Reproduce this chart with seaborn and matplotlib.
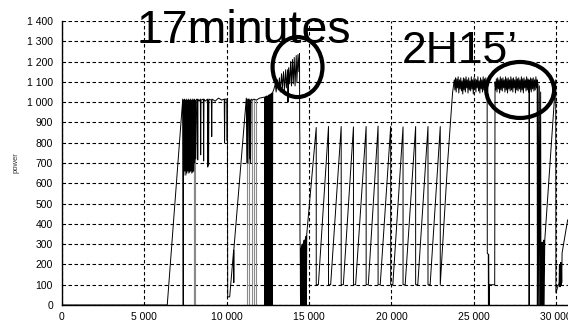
import matplotlib
matplotlib.use("Agg")
import matplotlib.pyplot as plt
from matplotlib.patches import Ellipse
from matplotlib.ticker import FuncFormatter, MultipleLocator
import seaborn as sns
import pandas as pd

# ---------------- data (time in s, power in W) ----------------
warmup = [(0, 0), (6390, 0), (7330, 1015)]

block1 = [(7360, 0), (7370, 1010), (7400, 640), (7430, 1015), (7460, 660), (7490, 1010),
          (7520, 640), (7550, 1015), (7580, 650), (7610, 1010), (7640, 660), (7670, 1015),
          (7700, 650), (7730, 1010), (7760, 655), (7790, 1015), (7820, 660), (7850, 1010),
          (7880, 650), (7910, 1015), (7940, 655), (7970, 1010), (8000, 660), (8030, 1015),
          (8060, 700), (8090, 1010), (8120, 720)]

plateau_a = [(8180, 1015), (8230, 1010), (8240, 715), (8250, 1015), (8330, 1005), (8400, 1015),
             (8420, 740), (8440, 1010), (8580, 1015), (8600, 710), (8620, 1015), (8700, 1005),
             (8830, 1015), (8850, 680), (8870, 1010), (8900, 690), (8920, 1015), (9070, 1010),
             (9090, 830), (9110, 1015), (9300, 1005), (9500, 1020), (9700, 1010), (9850, 1015),
             (9870, 800), (9890, 1015), (10020, 1015), (10030, 810), (10040, 1010), (10060, 40)]

ramp2 = [(10180, 40), (10420, 270), (10430, 110), (10440, 280), (11190, 1020)]

block2 = [(11220, 700), (11250, 1015), (11290, 700), (11320, 1015), (11360, 1015), (11390, 720),
          (11420, 1010), (11450, 700), (11480, 1015), (11560, 1010), (11650, 1015),
          (11800, 1010), (12000, 1020), (12300, 1025),
          (12320, 0), (12345, 1025), (12370, 0), (12395, 1030), (12420, 0), (12445, 1030),
          (12470, 0), (12495, 1030), (12520, 0), (12545, 1035), (12570, 0), (12595, 1035),
          (12620, 0), (12645, 1040), (12670, 0), (12695, 1040), (12720, 0), (12745, 1045),
          (12770, 0), (12795, 1050)]

sprint17 = [(12850, 1060), (12950, 1090), (13000, 1050), (13080, 1110), (13130, 1060),
            (13200, 1120), (13250, 1050), (13330, 1140), (13380, 1070), (13450, 1150),
            (13500, 1060), (13580, 1160), (13620, 1070), (13700, 1160), (13720, 1000),
            (13760, 1170), (13820, 1090), (13880, 1200), (13930, 1080), (13990, 1210),
            (14040, 1090), (14100, 1220), (14150, 1080), (14220, 1230), (14260, 1100),
            (14330, 1235), (14380, 1150), (14420, 1240)]

drop17 = [(14430, 880), (14440, 830), (14450, 320), (14460, 300), (14480, 0), (14500, 280),
          (14520, 0), (14540, 290), (14560, 0), (14580, 300), (14600, 0), (14620, 300),
          (14640, 0), (14660, 310), (14680, 0), (14700, 320), (14720, 0), (14740, 320),
          (14760, 0), (14780, 330), (14800, 0), (14820, 340), (14840, 0), (14860, 350)]

# sawtooth intervals
tooth_peak_t = [15435, 16180, 16950, 17695, 18465, 19190, 19955, 20705, 21470, 22220, 22965]
tooth_peak_p = [875, 880, 880, 878, 880, 882, 880, 878, 880, 880, 880]
tooth_start_t = [15565, 16310, 17080, 17825, 18595, 19320, 20085, 20835, 21600, 22350]
tooth_low_p = 100

to_plateau = [(22965, 100), (23410, 700), (23710, 1045), (23815, 1110)]

plateau1 = [(23850, 1060), (23890, 1120), (23930, 1050), (23970, 1115), (24010, 1070),
            (24050, 1125), (24090, 1045), (24130, 1110), (24170, 1065), (24210, 1120),
            (24250, 1055), (24290, 1105), (24330, 1040), (24370, 1120), (24410, 1060),
            (24450, 1115), (24490, 1050), (24530, 1125), (24570, 1070), (24610, 1110),
            (24650, 1045), (24690, 1120), (24730, 1060), (24770, 1105), (24810, 1055),
            (24850, 1125), (24890, 1065), (24930, 1110), (24970, 1040), (25010, 1120),
            (25050, 1060), (25090, 1115), (25130, 1050), (25170, 1110), (25210, 1070),
            (25250, 1125), (25290, 1055), (25330, 1105), (25370, 1045), (25410, 1120),
            (25450, 1065), (25490, 1110), (25530, 1050), (25570, 1125), (25610, 1060),
            (25650, 1115), (25690, 1055), (25730, 1120), (25770, 1070), (25810, 1100)]

break_a = [(25820, 255), (25880, 250), (25890, 0), (25900, 250), (25930, 0), (25950, 100),
           (26270, 100), (26290, 1100)]

plateau2 = [(26330, 1060), (26370, 1115), (26410, 1050), (26450, 1120), (26490, 1065),
            (26530, 1110), (26570, 1045), (26610, 1125), (26650, 1060), (26690, 1115),
            (26730, 1055), (26770, 1120), (26810, 1070), (26850, 1110), (26890, 1050),
            (26930, 1125), (26970, 1060), (27010, 1115), (27050, 1045), (27090, 1120),
            (27130, 1065), (27170, 1110), (27210, 1055), (27250, 1125), (27290, 1060),
            (27330, 1115), (27370, 1050), (27410, 1120), (27450, 1070), (27490, 1110),
            (27530, 1045), (27570, 1125), (27610, 1060), (27650, 1115), (27690, 1055),
            (27730, 1120), (27770, 1065), (27810, 1110), (27850, 1050), (27890, 1125),
            (27930, 1060), (27970, 1115), (28010, 1045), (28050, 1120), (28090, 1070),
            (28130, 1110), (28170, 1055), (28210, 1125), (28250, 1060), (28290, 1115),
            (28330, 1050), (28360, 1110), (28360, 0), (28370, 1100), (28410, 1060),
            (28450, 1120), (28490, 1050), (28530, 1115), (28570, 1065), (28610, 1120),
            (28650, 1055), (28690, 1110), (28730, 1060), (28770, 1125), (28810, 1070),
            (28845, 1110)]

finish = [(28850, 1100), (28860, 0), (28900, 1090), (28920, 0), (28980, 1080), (29000, 0),
          (29060, 1050), (29080, 0), (29100, 300), (29120, 0), (29150, 310), (29170, 0),
          (29200, 300), (29220, 0), (29250, 320), (29270, 0), (29310, 320), (29975, 1110),
          (29985, 60), (30180, 110), (30200, 200), (30220, 90), (30240, 200), (30260, 90),
          (30280, 210), (30300, 100), (30320, 200), (30340, 110), (30360, 256), (30700, 420)]

# second (grey) trace: vertical drops
grey_t = [7990, 8040, 8090, 11250, 11350, 11510, 11650, 11800]
grey_lo = [0, 0, 0, 0, 0, 0, 0, 0]
grey_hi = [1005, 1005, 1005, 1015, 1015, 1015, 1015, 1010]

y_ticks = list(range(0, 1401, 100))
x_ticks = list(range(0, 30001, 5000))

# ---------------- assemble the trace ----------------
sawtooth = []
for k, (pt, pp) in enumerate(zip(tooth_peak_t, tooth_peak_p)):
    sawtooth.append((pt, pp))
    sawtooth.append((pt, tooth_low_p))
    if k < len(tooth_start_t):
        sawtooth.append((tooth_start_t[k], tooth_low_p))

trace = (warmup + block1 + plateau_a + ramp2 + block2 + sprint17 + drop17 + sawtooth +
         to_plateau + plateau1 + break_a + plateau2 + finish)
df = pd.DataFrame(trace, columns=["time", "power"])

# ---------------- figure ----------------
sns.set_style("white")
plt.rcParams["font.family"] = ["Liberation Sans", "DejaVu Sans"]

fig = plt.figure(figsize=(5.68, 3.22), dpi=100)
ax = fig.add_axes([62 / 568, 17 / 322, 506 / 568, 284 / 322])

ax.set_xlim(0, 30720)
ax.set_ylim(0, 1400)
ax.set_xticks(x_ticks)
ax.set_yticks(y_ticks)
ax.xaxis.set_minor_locator(MultipleLocator(1000))
ax.yaxis.set_minor_locator(MultipleLocator(50))
fmt = FuncFormatter(lambda v, _: f"{int(v):,}".replace(",", " "))
ax.xaxis.set_major_formatter(fmt)
ax.yaxis.set_major_formatter(fmt)

ax.grid(True, which="major", color="black", linestyle=(0, (3.2, 2.2)), linewidth=0.8)
ax.set_axisbelow(True)

ax.vlines(grey_t, grey_lo, grey_hi, colors="#8a8a8a", linewidth=0.8, zorder=2)

sns.lineplot(data=df, x="time", y="power", sort=False, estimator=None,
             color="black", linewidth=0.7, ax=ax, zorder=3)

for s in ["top", "right"]:
    ax.spines[s].set_visible(False)
for s in ["left", "bottom"]:
    ax.spines[s].set_color("black")
    ax.spines[s].set_linewidth(1.0)

ax.tick_params(axis="both", which="major", direction="out", length=2.5, width=0.8,
               color="black", labelsize=7.5, labelcolor="black", pad=2.5)
ax.tick_params(axis="both", which="minor", direction="out", length=1.8, width=0.6,
               color="#555555")
ax.tick_params(axis="y", which="major", pad=4)

ax.set_xlabel("")
ax.set_ylabel("power", fontsize=5.5, color="#333333")
ax.yaxis.set_label_coords(-0.083, 0.5)

ax.text(4545, 1292, "17minutes", fontsize=33.5, va="baseline", ha="left", color="black",
        zorder=6)
ax.text(20600, 1193, "2H15\u2019", fontsize=32, va="baseline", ha="left", color="black",
        zorder=6)

ax.add_patch(Ellipse((14300, 1173), width=3030, height=296, fill=False, linewidth=3,
                     edgecolor="black", clip_on=False, zorder=7))
ax.add_patch(Ellipse((27815, 1060), width=4120, height=276, fill=False, linewidth=3,
                     edgecolor="black", clip_on=False, zorder=7))

fig.savefig("out.png", dpi=100)
